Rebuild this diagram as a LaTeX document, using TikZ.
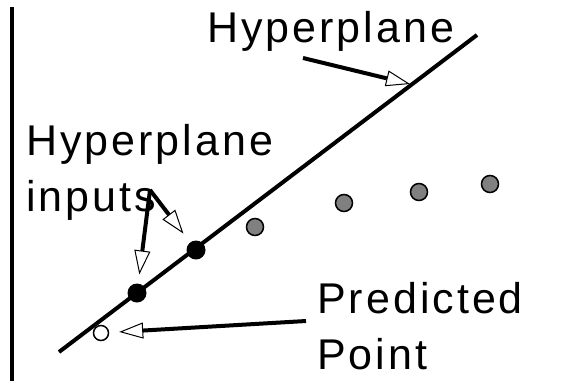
\documentclass[tikz,border=0pt]{standalone}
\usepackage{fontspec}
\setmainfont[LetterSpace=7]{Liberation Sans}
\usetikzlibrary{arrows.meta}

\begin{document}
\begin{tikzpicture}[x=1pt, y=-1pt,
  lbl/.style={font=\fontsize{43}{56}\selectfont, inner sep=0pt, align=left, anchor=north west},
  ptr/.style={line width=4pt, -{Triangle[fill=white, length=24pt, width=16pt, line width=1pt]}},
  gdot/.style={circle, draw, line width=1.5pt, fill=gray, minimum size=17pt, inner sep=0pt},
  bdot/.style={circle, fill=black, minimum size=19pt, inner sep=0pt},
  pdot/.style={circle, draw, line width=1.5pt, fill=white, minimum size=15pt, inner sep=0pt}]
\useasboundingbox (0,0) rectangle (568,381);
% axis and hyperplane
\coordinate (top) at (12,7);
\coordinate (bot) at (12,381);
\draw[line width=4pt] (top) -- (bot);
\coordinate (lo) at (59,352);
\coordinate (hi) at (477,35);
\draw[line width=4pt] (lo) -- (hi);
% points
\node (in1) [bdot] at (137,293) {};
\node (in2) [bdot] at (196,250) {};
\node (g1) [gdot] at (255,227) {};
\node (g2) [gdot] at (344,203) {};
\node (g3) [gdot] at (419,192) {};
\node (g4) [gdot] at (490,184) {};
\node (pred) [pdot] at (101,333) {};
% labels
\node (hyp) [lbl] at (207,11) {Hyperplane};
\node (inp) [lbl] at (26,124) {Hyperplane\\inputs};
\node (pp) [lbl] at (317,282) {Predicted\\Point};
\coordinate (hyptail) at (303,58);
\coordinate (hyptip) at (410,84);
\coordinate (inptail) at (150,190);
\coordinate (pptail) at (306,321);
\draw[ptr] (hyptail) -- (hyptip);
\draw[ptr, shorten >=9pt] (inptail) -- (in1);
\draw[ptr, shorten >=11pt] (inptail) -- (in2);
\draw[ptr, shorten >=10pt] (pptail) -- (pred);
\end{tikzpicture}
\end{document}
